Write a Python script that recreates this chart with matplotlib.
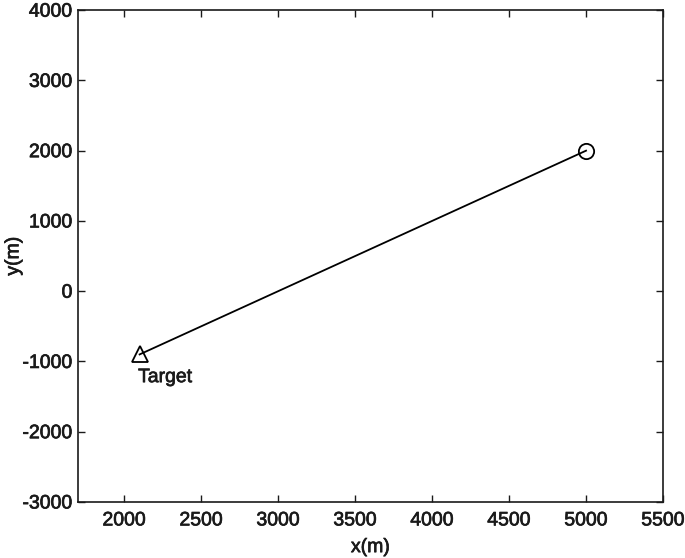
import matplotlib
matplotlib.use("Agg")
import matplotlib.pyplot as plt
import matplotlib.patheffects as pe

plt.rcParams['font.family'] = ['Liberation Sans', 'DejaVu Sans']
plt.rcParams['axes.unicode_minus'] = False

path_x = [2100, 5000]
path_y = [-900, 2000]
target_label = "Target"
xticks = [2000, 2500, 3000, 3500, 4000, 4500, 5000, 5500]
yticks = [-3000, -2000, -1000, 0, 1000, 2000, 3000, 4000]

TXT = '#1a1a1a'
thick = [pe.withStroke(linewidth=0.5, foreground=TXT)]

fig = plt.figure(figsize=(6.85, 5.58), dpi=100)
ax = fig.add_axes([0.1139, 0.1004, 0.8540, 0.8814])

ax.plot(path_x, path_y, color='black', linewidth=1.3)
ax.plot(path_x[0], path_y[0], marker='^', markersize=11, markerfacecolor='none',
        markeredgecolor='black', markeredgewidth=1.3, linestyle='none')
ax.plot(path_x[-1], path_y[-1], marker='o', markersize=11, markerfacecolor='none',
        markeredgecolor='black', markeredgewidth=1.3, linestyle='none')
ax.text(2090, -1230, target_label, fontsize=14, color=TXT, ha='left', va='center',
        path_effects=thick)

ax.set_xlim(1700, 5500)
ax.set_ylim(-3000, 4000)
ax.set_xticks(xticks)
ax.set_yticks(yticks)
ax.tick_params(direction='in', top=True, right=True, length=5, width=1,
               labelsize=14, colors=TXT)
ax.tick_params(axis='x', pad=7.5)
ax.tick_params(axis='y', pad=4)
for lab in ax.get_xticklabels() + ax.get_yticklabels():
    lab.set_path_effects(thick)
for s in ax.spines.values():
    s.set_linewidth(1.2)
    s.set_color(TXT)
xl = ax.set_xlabel('x(m)', fontsize=14, color=TXT, labelpad=7)
yl = ax.set_ylabel('y(m)', fontsize=14, color=TXT, labelpad=0)
xl.set_path_effects(thick)
yl.set_path_effects(thick)

fig.savefig('out.png', dpi=100)
